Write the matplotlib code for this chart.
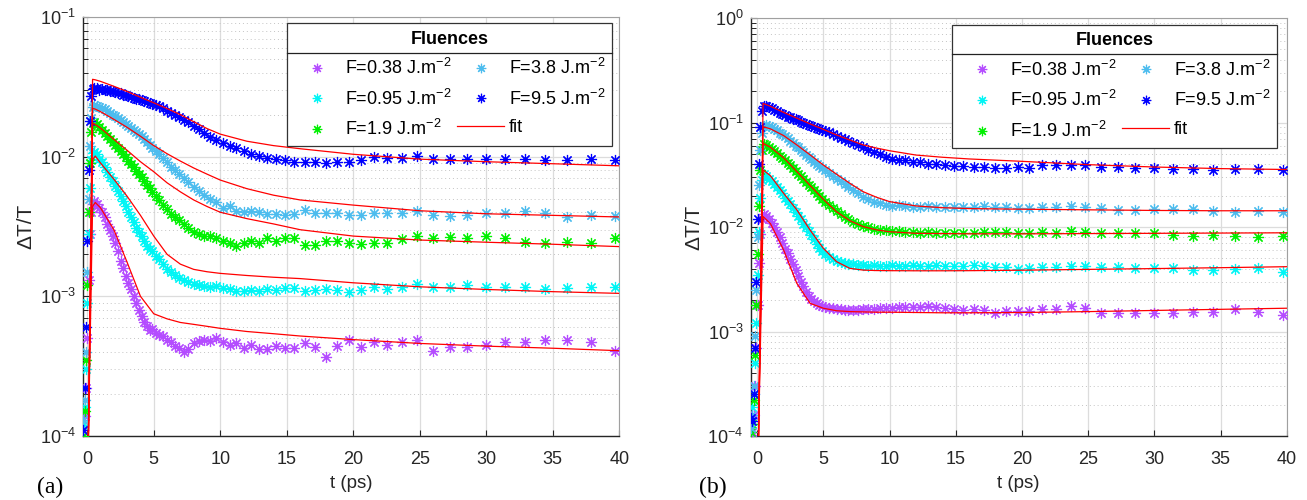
import matplotlib
matplotlib.use('Agg')
import matplotlib.pyplot as plt
from matplotlib.lines import Line2D
from matplotlib.transforms import IdentityTransform
from matplotlib.ticker import LogLocator, FixedLocator, NullFormatter

plt.rcParams['font.family'] = ['Liberation Sans', 'DejaVu Sans']
plt.rcParams['mathtext.fontset'] = 'custom'
plt.rcParams['mathtext.rm'] = 'Liberation Sans'
plt.rcParams['mathtext.it'] = 'Liberation Sans:italic'
plt.rcParams['mathtext.bf'] = 'Liberation Sans:bold'

# ---------------- data ----------------
LABELS = [r'F=0.38 J.m$^{-2}$', r'F=0.95 J.m$^{-2}$', r'F=1.9 J.m$^{-2}$',
          r'F=3.8 J.m$^{-2}$', r'F=9.5 J.m$^{-2}$']
FIT_LABEL = 'fit'
COLORS = ['#b44cff', '#00f5f5', '#00f000', '#4cbcee', '#0000ff']

T_RISE_A = [-0.3, -0.2, -0.1, 0.0, 0.1, 0.2, 0.3, 0.4, 0.5]
T_RISE_B = [-0.45, -0.35, -0.25, -0.15, -0.05, 0.05, 0.15, 0.25, 0.35, 0.5]
T_MAIN = [0.7, 0.9, 1.1, 1.3, 1.5, 1.7, 1.9, 2.1, 2.3, 2.5, 2.7, 2.9, 3.1, 3.3, 3.5, 3.7, 3.9, 4.1, 4.3, 4.5, 4.7, 4.9,
          5.15, 5.4, 5.7, 6.0, 6.3, 6.6, 6.9, 7.25, 7.6, 8.0, 8.4, 8.8, 9.25, 9.7, 10.2, 10.7, 11.2, 11.75, 12.3, 12.9, 13.5, 14.2, 14.85,
          15.55, 16.35, 17.1, 17.95, 18.8, 19.7, 20.55, 21.55, 22.55, 23.7, 24.8, 26.0, 27.25, 28.55, 29.95, 31.4, 32.9, 34.45, 36.1, 37.85, 39.7]

# panel (a) rise part
A_RISE_038 = [1.1e-4, 1.4e-4, 2.2e-4, 5e-4, 1.3e-3, 2.8e-3, 4.0e-3, 4.6e-3, 4.8e-3]
A_RISE_095 = [1.2e-4, 1.6e-4, 3e-4, 9e-4, 2.8e-3, 6e-3, 9.5e-3, 1.07e-2, 1.08e-2]
A_RISE_19 = [1.0e-4, 1.5e-4, 3.5e-4, 1.2e-3, 4e-3, 9e-3, 1.5e-2, 1.75e-2, 1.78e-2]
A_RISE_38 = [1.3e-4, 1.8e-4, 4e-4, 1.5e-3, 5e-3, 1.2e-2, 1.9e-2, 2.28e-2, 2.34e-2]
A_RISE_95 = [1.1e-4, 2.2e-4, 6e-4, 2.5e-3, 8e-3, 1.8e-2, 2.7e-2, 3.05e-2, 3.1e-2]

# panel (a) main part (on T_MAIN)
A_038 = [0.0046, 0.0043, 0.0040, 0.0037, 0.0033, 0.0030, 0.0027, 0.0024, 0.0021, 0.0018, 0.0016, 0.0014, 0.00125, 0.00112, 0.00100, 0.00090, 0.00080, 0.00072, 0.00066, 0.00061, 0.00057, 0.00058,
         0.00055, 0.00053, 0.00052, 0.00049, 0.00047, 0.00044, 0.00043, 0.00040, 0.00042, 0.00046, 0.00048, 0.00049, 0.00048, 0.00050, 0.00047, 0.00045, 0.00046, 0.00043, 0.00045, 0.00042, 0.00042, 0.00044, 0.00043,
         0.000425, 0.000461, 0.000432, 0.00037, 0.000441, 0.000486, 0.000436, 0.000473, 0.000448, 0.000473, 0.000486, 0.000408, 0.000432, 0.000432, 0.000448, 0.000473, 0.000473, 0.000486, 0.000486, 0.000473, 0.000408]
A_095 = [0.0104, 0.0097, 0.0091, 0.0084, 0.0078, 0.0072, 0.0067, 0.0062, 0.0057, 0.0052, 0.0048, 0.0044, 0.0040, 0.0037, 0.0034, 0.0031, 0.0029, 0.0027, 0.0025, 0.0023, 0.0022, 0.0021,
         0.00196, 0.00185, 0.00170, 0.00158, 0.00150, 0.00142, 0.00136, 0.00131, 0.00127, 0.00123, 0.00121, 0.00119, 0.00117, 0.00118, 0.00115, 0.00113, 0.00110, 0.00109, 0.00111, 0.00110, 0.00112, 0.00111, 0.00114,
         0.00114, 0.00109, 0.00111, 0.00113, 0.00111, 0.00107, 0.00111, 0.00116, 0.00112, 0.00117, 0.00122, 0.00117, 0.00116, 0.00120, 0.00117, 0.00116, 0.00116, 0.00112, 0.00114, 0.00117, 0.00116]
A_19 = [0.0170, 0.0162, 0.0156, 0.0148, 0.0141, 0.0134, 0.0128, 0.0122, 0.0116, 0.0110, 0.0104, 0.0099, 0.0093, 0.0088, 0.0084, 0.0079, 0.0075, 0.0071, 0.0067, 0.0063, 0.0060, 0.0056,
        0.0052, 0.0049, 0.0045, 0.0042, 0.0039, 0.0037, 0.0035, 0.0033, 0.0031, 0.0029, 0.0028, 0.0027, 0.0027, 0.0026, 0.0025, 0.0024, 0.0023, 0.0024, 0.0025, 0.0024, 0.0026, 0.0025, 0.0026,
        0.0026, 0.00233, 0.00233, 0.00251, 0.00251, 0.00242, 0.00236, 0.00242, 0.00242, 0.00256, 0.0027, 0.0026, 0.00267, 0.0026, 0.0027, 0.0026, 0.00246, 0.00242, 0.00246, 0.0024, 0.0026]
A_38 = [0.0232, 0.0228, 0.0224, 0.0219, 0.0213, 0.0207, 0.0199, 0.0195, 0.0188, 0.0182, 0.0177, 0.0171, 0.0166, 0.0160, 0.0156, 0.0150, 0.0145, 0.0140, 0.0133, 0.0127, 0.0121, 0.0115,
        0.0110, 0.0104, 0.0098, 0.0091, 0.0085, 0.0080, 0.0075, 0.0070, 0.0066, 0.0061, 0.0057, 0.0053, 0.0050, 0.0047, 0.0043, 0.0044, 0.0041, 0.0040, 0.0041, 0.0040, 0.0039, 0.0039, 0.0038,
        0.00389, 0.00415, 0.00397, 0.00393, 0.00393, 0.00382, 0.00382, 0.00397, 0.00397, 0.00397, 0.00408, 0.00382, 0.00376, 0.00382, 0.00397, 0.00397, 0.00408, 0.00397, 0.00368, 0.00382, 0.00376]
A_95 = [0.0308, 0.0302, 0.0305, 0.0298, 0.0300, 0.0294, 0.0293, 0.0290, 0.0286, 0.0284, 0.0278, 0.0275, 0.0271, 0.0268, 0.0265, 0.0260, 0.0257, 0.0253, 0.0250, 0.0246, 0.0242, 0.0239,
        0.0234, 0.0229, 0.0222, 0.0213, 0.0206, 0.0199, 0.0193, 0.0184, 0.0176, 0.0166, 0.0157, 0.0148, 0.0139, 0.0132, 0.0126, 0.0120, 0.0115, 0.0110, 0.0104, 0.0101, 0.0098, 0.0096, 0.0094,
        0.0092, 0.0092, 0.0091, 0.0090, 0.0091, 0.0092, 0.0095, 0.0099, 0.0098, 0.0098, 0.0101, 0.0097, 0.0096, 0.0096, 0.0096, 0.0096, 0.0096, 0.0095, 0.0095, 0.0096, 0.0095]

# panel (b) rise part
B_RISE_038 = [1.0e-4, 1.1e-4, 1.6e-4, 3e-4, 7e-4, 1.8e-3, 4.5e-3, 8.5e-3, 1.2e-2, 1.33e-2]
B_RISE_095 = [1.3e-4, 1.9e-4, 2.5e-4, 5e-4, 1.2e-3, 3.5e-3, 9e-3, 1.9e-2, 2.8e-2, 3.2e-2]
B_RISE_19 = [1.1e-4, 1.3e-4, 2.2e-4, 6e-4, 1.8e-3, 5.5e-3, 1.6e-2, 3.5e-2, 5.4e-2, 6.2e-2]
B_RISE_38 = [1.2e-4, 1.6e-4, 3e-4, 9e-4, 2.5e-3, 8e-3, 2.5e-2, 5.5e-2, 8e-2, 9.3e-2]
B_RISE_95 = [1.5e-4, 1.4e-4, 2.5e-4, 7e-4, 3e-3, 1.2e-2, 4e-2, 9e-2, 1.3e-1, 1.45e-1]

# panel (b) main part (on T_MAIN)
B_038 = [0.0128, 0.0118, 0.0110, 0.0100, 0.0089, 0.0080, 0.0070, 0.0062, 0.0056, 0.0049, 0.0044, 0.0039, 0.0034, 0.0030, 0.0027, 0.0024, 0.0022, 0.00205, 0.00195, 0.00186, 0.00180, 0.00175,
         0.00172, 0.00168, 0.00166, 0.00163, 0.00164, 0.00161, 0.00162, 0.00160, 0.00162, 0.00163, 0.00165, 0.00164, 0.00167, 0.00166, 0.00168, 0.00171, 0.00173, 0.00172, 0.00170, 0.00175, 0.00170, 0.00166, 0.00163,
         0.00161, 0.00163, 0.00160, 0.00151, 0.00158, 0.00158, 0.00158, 0.00163, 0.00163, 0.00175, 0.00167, 0.00151, 0.00151, 0.00149, 0.00151, 0.00151, 0.00155, 0.00155, 0.00163, 0.00155, 0.00144]
B_095 = [0.031, 0.029, 0.0275, 0.026, 0.024, 0.0225, 0.021, 0.019, 0.0178, 0.0165, 0.0153, 0.0140, 0.0128, 0.0118, 0.0108, 0.0099, 0.0091, 0.0083, 0.0076, 0.0069, 0.0063, 0.0059,
         0.0055, 0.0052, 0.0049, 0.0047, 0.0046, 0.0045, 0.0044, 0.0044, 0.0043, 0.0043, 0.0042, 0.0043, 0.0042, 0.0042, 0.0043, 0.0042, 0.0042, 0.0043, 0.0042, 0.0042, 0.0043, 0.0042, 0.0042,
         0.0042, 0.0043, 0.0042, 0.00411, 0.00411, 0.00394, 0.00402, 0.00417, 0.00417, 0.00424, 0.00424, 0.00411, 0.00411, 0.00402, 0.00402, 0.00402, 0.00388, 0.00388, 0.00394, 0.00402, 0.00374]
B_19 = [0.061, 0.058, 0.056, 0.053, 0.051, 0.048, 0.046, 0.0435, 0.041, 0.039, 0.037, 0.0345, 0.0325, 0.0305, 0.029, 0.027, 0.0255, 0.024, 0.0225, 0.021, 0.0197, 0.0186,
        0.0175, 0.0163, 0.0152, 0.0141, 0.0132, 0.0124, 0.0118, 0.0112, 0.0107, 0.0102, 0.0099, 0.0096, 0.0094, 0.0093, 0.0092, 0.0091, 0.0090, 0.0089, 0.0088, 0.0089, 0.0087, 0.0088, 0.0087,
        0.0088, 0.0087, 0.0089, 0.00902, 0.00902, 0.00883, 0.0087, 0.00902, 0.0087, 0.00916, 0.00902, 0.0087, 0.00883, 0.0087, 0.0087, 0.00838, 0.0082, 0.00838, 0.0082, 0.00807, 0.0082]
B_38 = [0.095, 0.093, 0.091, 0.087, 0.084, 0.080, 0.077, 0.074, 0.071, 0.067, 0.064, 0.060, 0.058, 0.055, 0.052, 0.049, 0.047, 0.045, 0.042, 0.040, 0.038, 0.037,
        0.035, 0.033, 0.031, 0.029, 0.0275, 0.026, 0.024, 0.0225, 0.021, 0.0195, 0.0185, 0.0175, 0.0168, 0.0163, 0.0160, 0.0161, 0.0158, 0.0157, 0.0156, 0.0158, 0.0155, 0.0157, 0.0155,
        0.0156, 0.0157, 0.0158, 0.0154, 0.0154, 0.0151, 0.0151, 0.0154, 0.0154, 0.0159, 0.0154, 0.0151, 0.0146, 0.0146, 0.0148, 0.0148, 0.0148, 0.0143, 0.0140, 0.0142, 0.0140]
B_95 = [0.145, 0.140, 0.137, 0.133, 0.128, 0.124, 0.120, 0.117, 0.114, 0.112, 0.109, 0.107, 0.105, 0.102, 0.099, 0.097, 0.094, 0.092, 0.090, 0.088, 0.086, 0.085,
        0.083, 0.081, 0.077, 0.074, 0.071, 0.069, 0.066, 0.064, 0.061, 0.058, 0.055, 0.052, 0.050, 0.047, 0.045, 0.044, 0.0435, 0.042, 0.0415, 0.040, 0.0405, 0.039, 0.0385,
        0.0382, 0.0378, 0.0372, 0.0364, 0.0364, 0.0372, 0.0364, 0.0392, 0.0392, 0.0392, 0.0392, 0.0372, 0.0372, 0.0364, 0.0364, 0.0356, 0.0356, 0.0351, 0.0356, 0.0356, 0.0351]

# fits
FIT_T_A = [0.08, 0.4, 0.6, 1, 2, 3, 4, 5, 6, 7, 8, 9, 10, 12, 14, 16, 20, 25, 30, 35, 40]
FIT_A_038 = [9e-5, 0.0044, 0.0047, 0.0043, 0.0030, 0.00175, 0.0010, 0.00075, 0.00069, 0.00065, 0.00063, 0.00061, 0.00059, 0.00056, 0.00054, 0.00052, 0.00049, 0.00046, 0.00044, 0.000425, 0.000408]
FIT_A_095 = [9e-5, 0.0095, 0.0101, 0.0090, 0.0069, 0.0052, 0.0038, 0.0027, 0.0020, 0.0017, 0.00156, 0.0015, 0.00146, 0.00141, 0.00137, 0.00134, 0.00125, 0.00117, 0.00112, 0.00108, 0.00105]
FIT_A_19 = [9e-5, 0.0173, 0.0170, 0.0160, 0.0133, 0.0111, 0.0092, 0.0078, 0.0065, 0.0056, 0.0049, 0.0044, 0.0040, 0.0036, 0.0033, 0.0030, 0.0027, 0.00253, 0.00244, 0.00236, 0.00227]
FIT_A_38 = [9e-5, 0.0222, 0.0219, 0.0210, 0.0185, 0.0162, 0.0140, 0.0120, 0.0105, 0.0093, 0.0083, 0.0075, 0.0068, 0.0059, 0.0053, 0.0049, 0.0045, 0.0041, 0.0039, 0.0038, 0.0037]
FIT_A_95 = [9e-5, 0.0358, 0.0355, 0.0346, 0.0319, 0.0293, 0.0266, 0.0243, 0.0221, 0.0200, 0.0178, 0.0159, 0.0145, 0.0129, 0.0120, 0.0114, 0.0104, 0.0096, 0.0092, 0.0089, 0.0086]

FIT_T_B = [0.1, 0.45, 1, 2, 3, 4, 5, 6, 7, 8, 9, 10, 12, 14, 16, 20, 25, 30, 35, 40]
FIT_B_038 = [9e-5, 0.0126, 0.0108, 0.00603, 0.00289, 0.00186, 0.00167, 0.00158, 0.00155, 0.00154, 0.00153, 0.00153, 0.00152, 0.00151, 0.00151, 0.00152, 0.00155, 0.00159, 0.00163, 0.00167]
FIT_B_095 = [9e-5, 0.0351, 0.031, 0.021, 0.0146, 0.00935, 0.00625, 0.00466, 0.00402, 0.00387, 0.00383, 0.00382, 0.00381, 0.00381, 0.00382, 0.00386, 0.00393, 0.00400, 0.00408, 0.00417]
FIT_B_19 = [9e-5, 0.0632, 0.058, 0.046, 0.0339, 0.025, 0.0184, 0.014, 0.0115, 0.0101, 0.0094, 0.0090, 0.0087, 0.00865, 0.0086, 0.0086, 0.00865, 0.0087, 0.00875, 0.0088]
FIT_B_38 = [9e-5, 0.0912, 0.087, 0.075, 0.061, 0.049, 0.0392, 0.032, 0.0262, 0.0218, 0.0193, 0.0175, 0.0159, 0.0153, 0.0150, 0.0148, 0.0146, 0.0144, 0.0143, 0.0143]
FIT_B_95 = [9e-5, 0.152, 0.143, 0.125, 0.110, 0.097, 0.086, 0.076, 0.068, 0.061, 0.057, 0.0537, 0.0488, 0.0465, 0.0448, 0.0425, 0.0395, 0.0375, 0.0362, 0.0355]

X_TICKS = [0, 5, 10, 15, 20, 25, 30, 35, 40]

PANELS = [
    dict(rect=[82.6 / 1307, 64 / 500, 536.7 / 1307, 419 / 500], xlim=(-0.35, 40), ylim=(1e-4, 1e-1),
         t=T_RISE_A + T_MAIN,
         series=[A_RISE_038 + A_038, A_RISE_095 + A_095, A_RISE_19 + A_19, A_RISE_38 + A_38, A_RISE_95 + A_95],
         fit_t=FIT_T_A, fits=[FIT_A_038, FIT_A_095, FIT_A_19, FIT_A_38, FIT_A_95],
         tag='(a)', tag_x=37 / 1307, leg_xy=(286.7, 23.3)),
    dict(rect=[750.5 / 1307, 64 / 500, 536.2 / 1307, 418 / 500], xlim=(-0.5, 40), ylim=(1e-4, 1e0),
         t=T_RISE_B + T_MAIN,
         series=[B_RISE_038 + B_038, B_RISE_095 + B_095, B_RISE_19 + B_19, B_RISE_38 + B_38, B_RISE_95 + B_95],
         fit_t=FIT_T_B, fits=[FIT_B_038, FIT_B_095, FIT_B_19, FIT_B_38, FIT_B_95],
         tag='(b)', tag_x=699 / 1307, leg_xy=(951.7, 25.0)),
]

MARKER = (8, 2, 0)
FS = 13

fig = plt.figure(figsize=(13.07, 5.0), dpi=100)
legends = []
for p in PANELS:
    ax = fig.add_axes(p['rect'])
    ax.set_yscale('log')
    handles = []
    for ys, col, lab in zip(p['series'], COLORS, LABELS):
        h, = ax.plot(p['t'], ys, ls='none', marker=MARKER, ms=8, mew=0.85,
                     color=col, label=lab, zorder=3)
        handles.append(h)
    fit_h = None
    for fy in p['fits']:
        fit_h, = ax.plot(p['fit_t'], fy, color='#ff0000', lw=0.9, zorder=4)
    ax.set_xlim(*p['xlim'])
    ax.set_ylim(*p['ylim'])
    ax.xaxis.set_major_locator(FixedLocator(X_TICKS))
    ax.yaxis.set_major_locator(LogLocator(base=10, numticks=10))
    ax.yaxis.set_minor_locator(LogLocator(base=10, subs=range(2, 10), numticks=20))
    ax.yaxis.set_minor_formatter(NullFormatter())
    ax.grid(True, which='major', color='#dcdcdc', lw=0.9, ls='-', zorder=0)
    ax.grid(True, which='minor', axis='y', color='#c4c4c4', lw=0.7, ls=(0, (1, 3)), zorder=0)
    ax.set_axisbelow(True)
    ax.tick_params(which='both', direction='in', labelsize=FS, colors='#262626',
                   top=False, right=False)
    ax.tick_params(which='major', length=4.5, width=0.8)
    ax.tick_params(which='minor', length=3.5, width=0.7)
    ax.tick_params(axis='x', pad=11)
    ax.tick_params(axis='y', pad=5)
    for s in ['left', 'bottom']:
        ax.spines[s].set_color('#262626')
        ax.spines[s].set_linewidth(1.0)
    for s in ['top', 'right']:
        ax.spines[s].set_color('#a0a0a0')
        ax.spines[s].set_linewidth(0.8)
    ax.set_xlabel('t (ps)', fontsize=FS + 0.5, color='#262626', labelpad=5)
    ax.set_ylabel('ΔT/T', fontsize=FS + 2, color='#262626', labelpad=3)
    fig.text(p['tag_x'], 0.026, p['tag'], fontsize=17, family=['Liberation Serif', 'DejaVu Serif'],
             ha='left', va='center')

    lx, ly = p['leg_xy']
    leg = ax.legend(handles + [fit_h], LABELS + [FIT_LABEL], ncol=2, title='Fluences',
                    title_fontproperties={'weight': 'bold', 'size': FS},
                    fontsize=FS, loc='upper left', bbox_to_anchor=(lx / 1307, 1 - ly / 500),
                    bbox_transform=fig.transFigure, frameon=True, fancybox=False,
                    edgecolor='#333333', framealpha=1, borderpad=0.4, handlelength=2.6,
                    handletextpad=0.25, columnspacing=0.3, labelspacing=0.58, borderaxespad=0,
                    markerscale=0.85)
    leg.get_frame().set_linewidth(0.9)
    leg.set_zorder(10)
    legends.append(leg)

fig.canvas.draw()
renderer = fig.canvas.get_renderer()
for leg in legends:
    fb = leg.get_frame().get_window_extent(renderer)
    tb = leg.get_title().get_window_extent(renderer)
    ysep = tb.y0 - 5
    fig.add_artist(Line2D([fb.x0, fb.x1], [ysep, ysep], transform=IdentityTransform(),
                          color='#222222', lw=0.9, zorder=20))

fig.savefig('out.png', dpi=100)
